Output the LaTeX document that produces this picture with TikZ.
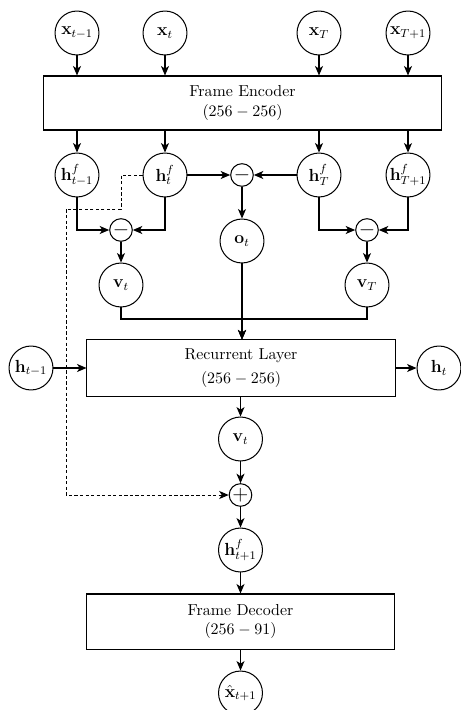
\documentclass[tikz,border=0pt]{standalone}
\usetikzlibrary{arrows.meta}
\begin{document}
\begin{tikzpicture}[x=0.685pt,y=-0.685pt,
  every path/.style={line width=0.7pt},
  every node/.style={font=\fontsize{10.9}{13.4}\selectfont},
  arr/.style={-{Stealth[length=6.5pt,width=5.5pt,inset=1.8pt]}},
  dsh/.style={line width=0.6pt,dash pattern=on 2.2pt off 1.6pt},
  var/.style={circle,draw,line width=0.7pt,minimum size=30.1pt,inner sep=0pt,font=\fontsize{11.5}{13}\selectfont},
  op/.style={circle,draw,line width=0.7pt,minimum size=15.5pt,inner sep=0pt,font=\fontsize{15}{15}\selectfont},
  blk/.style={rectangle,draw,line width=0.7pt,align=center,inner sep=0pt}]
\useasboundingbox (0,0) rectangle (461,710);
% inputs
\node[var] (x1) at (77,33) {$\mathbf{x}_{t-1}$};
\node[var] (x2) at (165,33) {$\mathbf{x}_{t}$};
\node[var] (x3) at (319,33) {$\mathbf{x}_{T}$};
\node[var] (x4) at (408,33) {$\mathbf{x}_{T+1}$};
% encoder
\node[blk,minimum width=272pt,minimum height=37pt] (enc) at (242.5,103) {Frame Encoder\\$(256-256)$};
% h^f
\node[var] (h1) at (77,175) {$\mathbf{h}^f_{t-1}$};
\node[var] (h2) at (165,175) {$\mathbf{h}^f_{t}$};
\node[var] (h3) at (319,175) {$\mathbf{h}^f_{T}$};
\node[var] (h4) at (408,175) {$\mathbf{h}^f_{T+1}$};
% minus ops
\node[op] (m1) at (242,175) {$-$};
\node[op] (m2) at (121,230) {$-$};
\node[op] (m3) at (367,230) {$-$};
\node[var] (ot) at (242,241) {$\mathbf{o}_t$};
\node[var] (v1) at (121,285) {$\mathbf{v}_t$};
\node[var] (v2) at (367,285) {$\mathbf{v}_T$};
\coordinate (j) at (242,319);
% recurrent
\node[blk,minimum width=211pt,minimum height=38.4pt] (rec) at (241,368) {Recurrent Layer\\[3pt]$(256-256)$};
\node[var] (hp) at (31,368) {$\mathbf{h}_{t-1}$};
\node[var] (hn) at (439,368) {$\mathbf{h}_{t}$};
\node[var] (v3) at (240.5,439) {$\mathbf{v}_t$};
\node[op] (pl) at (240.5,495) {$+$};
\node[var] (hf) at (240.5,550) {$\mathbf{h}^f_{t+1}$};
\node[blk,minimum width=211pt,minimum height=37.7pt] (dec) at (240.5,621.5) {Frame Decoder\\$(256-91)$};
\node[var] (xh) at (240.5,693) {$\hat{\mathbf{x}}_{t+1}$};
% dashed route coordinates
\coordinate (d1) at (121,175);
\coordinate (d2) at (121,209);
\coordinate (d3) at (66,209);
\coordinate (d4) at (66,495);
% connectors
\foreach \i in {x1,x2,x3,x4} \draw[arr] (\i.south) -- (\i |- enc.north);
\foreach \i in {h1,h2,h3,h4} \draw[arr] (\i |- enc.south) -- (\i.north);
\draw[arr] (h2.east) -- (m1.west);
\draw[arr] (h3.west) -- (m1.east);
\draw[arr] (m1.south) -- (ot.north);
\draw[arr] (h1.south) |- (m2.west);
\draw[arr] (h2.south) |- (m2.east);
\draw[arr] (h3.south) |- (m3.west);
\draw[arr] (h4.south) |- (m3.east);
\draw[arr] (m2.south) -- (v1.north);
\draw[arr] (m3.south) -- (v2.north);
\draw[arr] (v1.south) |- (j) -- (j |- rec.north);
\draw[arr] (v2.south) |- (j) -- (j |- rec.north);
\draw[arr] (ot.south) -- (ot |- rec.north);
\draw[arr] (hp.east) -- (rec.west);
\draw[arr] (rec.east) -- (hn.west);
\draw[arr] (v3 |- rec.south) -- (v3.north);
\draw[arr] (v3.south) -- (pl.north);
\draw[arr] (pl.south) -- (hf.north);
\draw[arr] (hf.south) -- (dec.north);
\draw[arr] (dec.south) -- (xh.north);
\draw[arr,dsh] (h2.west) -- (d1) -- (d2) -- (d3) -- (d4) -- (pl.west);
\end{tikzpicture}
\end{document}
